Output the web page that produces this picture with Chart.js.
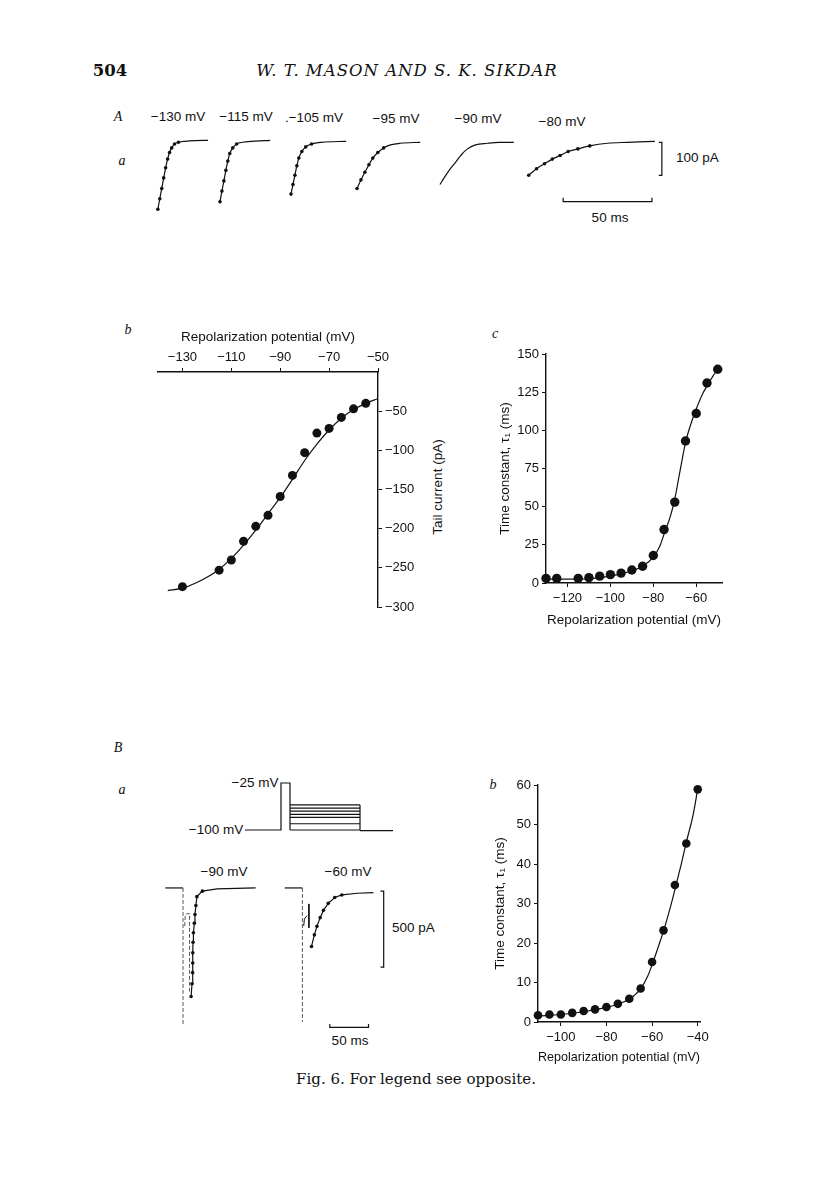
<!DOCTYPE html>
<html>
<head>
<meta charset="utf-8">
<script src="https://cdn.jsdelivr.net/npm/chart.js@4.4.0/dist/chart.umd.min.js"></script>
<style>
  html, body { margin: 0; padding: 0; background: #fff; }
  #page { position: relative; width: 816px; height: 1181px; overflow: hidden; background: #fff; }
  canvas { position: absolute; }
  .t { position: absolute; white-space: nowrap; color: #111; font-family: "Liberation Sans", Arial, sans-serif;
       font-size: 13.5px; line-height: 1; transform: translate(-50%, -50%); }
  .l { transform: translate(0, -50%); }
  .serif { font-family: "DejaVu Serif", "Liberation Serif", serif; }
  .it { font-family: "Liberation Serif", serif; font-style: italic; font-size: 14px; }
  .rot { transform: translate(-50%, -50%) rotate(-90deg); }
</style>
</head>
<body>
<div id="page">
  <div class="t serif" style="left:110px;top:71px;font-size:16.5px;font-weight:bold;">504</div>
  <div class="t serif" style="left:407px;top:71px;font-size:16.5px;font-style:italic;letter-spacing:1px;">W. T. MASON AND S. K. SIKDAR</div>

  <!-- panel A -->
  <div class="t it" style="left:118px;top:117px;">A</div>
  <div class="t it" style="left:122px;top:161px;">a</div>
  <div class="t" style="left:178px;top:117px;">−130 mV</div>
  <div class="t" style="left:246px;top:117px;">−115 mV</div>
  <div class="t" style="left:314px;top:118px;">.−105 mV</div>
  <div class="t" style="left:396px;top:119px;">−95 mV</div>
  <div class="t" style="left:478px;top:119px;">−90 mV</div>
  <div class="t" style="left:562px;top:122px;">−80 mV</div>
  <div class="t l" style="left:676px;top:158px;">100 pA</div>
  <div class="t" style="left:610px;top:218px;">50 ms</div>

  <!-- panel A b / c -->
  <div class="t it" style="left:128px;top:330px;">b</div>
  <div class="t rot" style="left:438px;top:487px;">Tail current (pA)</div>
  <div class="t it" style="left:495px;top:334px;">c</div>

  <!-- panel B -->
  <div class="t it" style="left:118px;top:748px;">B</div>
  <div class="t it" style="left:122px;top:790px;">a</div>
  <div class="t" style="left:255px;top:783px;">−25 mV</div>
  <div class="t" style="left:216px;top:830px;">−100 mV</div>
  <div class="t" style="left:224px;top:872px;">−90 mV</div>
  <div class="t" style="left:348px;top:872px;">−60 mV</div>
  <div class="t l" style="left:392px;top:928px;">500 pA</div>
  <div class="t" style="left:350px;top:1041px;">50 ms</div>
  <div class="t it" style="left:493px;top:785px;">b</div>

  <div class="t serif" style="left:416px;top:1079px;font-size:15px;">Fig. 6. For legend see opposite.</div>

  <canvas id="tracesA" width="580" height="140" style="left:140px;top:100px;"></canvas>
  <canvas id="ivChart" width="268" height="300" style="left:150px;top:320px;"></canvas>
  <canvas id="tauChart" width="260" height="310" style="left:480px;top:330px;"></canvas>
  <canvas id="protocolB" width="160" height="65" style="left:240px;top:775px;"></canvas>
  <canvas id="tracesB" width="250" height="190" style="left:150px;top:860px;"></canvas>
  <canvas id="tauChartB" width="260" height="310" style="left:470px;top:770px;"></canvas>
</div>

<script>
// ---- A a: tail current traces (time in ms, current in pA)
const trA130Time = [7.8, 8.9, 10.0, 11.1, 12.2, 13.3, 14.4, 15.6, 17.2, 19.4, 23.3, 28.9, 36.1];
const trA130Curr = [-209, -177, -146, -114, -83, -57, -37, -23, -11, -6, -3, -1, 0];
const trA115Time = [42.8, 43.9, 45.0, 46.1, 47.2, 48.3, 50.0, 52.2, 55.6, 61.1, 71.1];
const trA115Curr = [-186, -154, -123, -91, -63, -40, -23, -11, -6, -3, 0];
const trA105Time = [82.8, 83.9, 85.0, 86.1, 87.2, 88.9, 91.1, 94.4, 100.0, 113.9];
const trA105Curr = [-163, -134, -106, -77, -54, -34, -20, -11, -6, -3];
const trA95Time = [120.0, 122.2, 124.4, 126.7, 128.9, 131.7, 135.0, 138.9, 144.4, 155.6];
const trA95Curr = [-146, -120, -97, -74, -54, -37, -23, -14, -9, -6];
const trA90Time = [166.7, 169.4, 172.2, 175.6, 178.9, 182.2, 186.7, 193.3, 200.0, 208.3];
const trA90Curr = [-134, -111, -89, -66, -43, -26, -14, -9, -6, -6];
const trA80Time = [216.7, 221.1, 225.6, 230.0, 234.4, 238.9, 244.4, 251.1, 261.1, 272.2, 287.8];
const trA80Curr = [-106, -86, -71, -57, -46, -34, -26, -17, -9, -6, -3];
const dotsA = [10, 8, 8, 7, 0, 8];   // how many fitted points are marked on each trace
const barA100pA_t = [290, 291.7, 291.7, 290];
const barA100pA_i = [-6, -6, -106, -106];
const barA50ms_t = [236.1, 236.1, 286.1, 286.1];
const barA50ms_i = [-174, -186, -186, -174];

// ---- A b: tail current vs repolarization potential
const ivTicksX = [-130, -110, -90, -70, -50];
const ivTicksY = [-50, -100, -150, -200, -250, -300];
const ivPotential = [-130, -115, -110, -105, -100, -95, -90, -85, -80, -75, -70, -65, -60, -55];
const ivCurrent = [-274, -253, -240, -216, -197, -183, -159, -132, -103, -78, -72, -58, -47, -40];
const ivFitPotential = [-136, -130, -125, -120, -115, -110, -105, -100, -95, -90, -85, -80, -75, -70, -65, -60, -55, -50];
const ivFitCurrent = [-279, -276, -270, -262, -252, -238, -221, -202, -181, -160, -137, -113, -92, -74, -59, -48, -40, -34];

// ---- A c: time constant vs repolarization potential
const tauTicksX = [-120, -100, -80, -60];
const tauPotential = [-130, -125, -115, -110, -105, -100, -95, -90, -85, -80, -75, -70, -65, -60, -55, -50];
const tauValues = [3, 3, 3, 3.5, 4.5, 5.5, 6.5, 8.5, 11, 18, 35, 53, 93, 111, 131, 140];
const tauFitPotential = [-130, -120, -110, -100, -95, -90, -85, -80, -77, -75, -72, -70, -68, -66, -65, -63, -60, -57, -55, -52, -50];
const tauFitValues = [2.6, 2.6, 2.8, 4.5, 6, 8, 11, 17, 24, 32, 44, 55, 70, 85, 92, 102, 114, 124, 129, 136, 140];

// ---- B a: voltage protocol (ms, mV)
const protoTime = [6.25, 51.25, 51.25, 62.5, 62.5, 62.5];
const protoVolt = [-100, -100, -25, -25, -60, -100];
const protoSteps = [-60, -65, -70, -75, -80, -90, -100];
const protoStepEnd = 150;
const protoTailEnd = 191.25;

// ---- B a: current traces (ms, pA)
const base90Time = [14.6, 37.5];
const base90Curr = [0, 0];
const cap90Time = [37.5, 37.5];
const cap90Curr = [0, -900];
const hook90Time = [39.6, 40.4, 42.0, 45.9, 45.9];
const hook90Curr = [-250, -180, -170, -168, -680];
const tail90Time = [47.9, 49.1, 49.9, 50.0, 50.1, 50.4, 50.9, 52.1, 52.9, 54.1, 55.4, 62.5, 81.3, 131.3];
const tail90Curr = [-713, -629, -556, -493, -426, -357, -294, -231, -174, -115, -57, -21, -6, 0];
const base60Time = [168.8, 191.6];
const base60Curr = [0, 0];
const cap60Time = [191.6, 191.6];
const cap60Curr = [0, -880];
const hook60Time = [193.3, 194.2, 196.0, 197.9];
const hook60Curr = [-250, -205, -190, -182];
const spike60Time = [200, 200];
const spike60Curr = [-105, -262];
const tail60Time = [203.4, 207.1, 210.4, 214.6, 218.8, 225.0, 233.4, 242.5, 262.5, 283.4];
const tail60Curr = [-384, -308, -252, -195, -147, -101, -63, -46, -35, -31];
const barB500pA_t = [292.5, 296.6, 296.6, 292.5];
const barB500pA_i = [-21, -21, -520, -520];
const barB50ms_t = [227, 227, 277, 277];
const barB50ms_i = [-893, -916, -916, -893];

// ---- B b: time constant vs repolarization potential
const tauBTicksX = [-100, -80, -60, -40];
const tauBPotential = [-110, -105, -100, -95, -90, -85, -80, -75, -70, -65, -60, -55, -50, -45, -40];
const tauBValues = [1.7, 1.9, 1.9, 2.3, 2.8, 3.2, 3.8, 4.6, 5.9, 8.5, 15.2, 23.2, 34.7, 45.2, 58.9];
const tauBFitPotential = [-110, -100, -90, -80, -75, -70, -65, -62, -60, -57, -55, -52, -50, -47, -45, -42, -40];
const tauBFitValues = [1.5, 1.9, 2.6, 3.7, 4.5, 5.8, 8.4, 11.5, 14.5, 19.5, 23, 29, 33.5, 40.5, 45.5, 52.5, 59];

const ink = '#111';
Chart.defaults.font.family = '"Liberation Sans", Arial, sans-serif';
Chart.defaults.font.size = 13;
Chart.defaults.color = ink;
Chart.defaults.animation = false;
Chart.defaults.plugins.legend.display = false;
Chart.defaults.plugins.tooltip.enabled = false;

function pts(xs, ys) {
    return xs.map((x, i) => ({ x: x, y: ys[i] }));
}
function minusFmt(v) {
    return v < 0 ? '\u2212' + Math.abs(v) : String(v);
}
// a plain polyline
function line(xs, ys, extra) {
    return Object.assign({
        data: pts(xs, ys), showLine: true, borderColor: ink, borderWidth: 1.2,
        pointRadius: 0, tension: 0
    }, extra || {});
}
// a trace with its first few samples marked by dots
function dotted(xs, ys, dots, extra) {
    return line(xs, ys, Object.assign({
        pointRadius: c => c.dataIndex < dots ? 1.8 : 0,
        pointBackgroundColor: ink, pointBorderWidth: 0
    }, extra || {}));
}
// filled data circles, allowed to sit on the axes
function markers(xs, ys, r) {
    return { data: pts(xs, ys), pointRadius: r, pointBackgroundColor: ink, pointBorderWidth: 0, clip: false };
}
function hiddenScales(xmin, xmax, ymin, ymax) {
    return {
        x: { type: 'linear', display: false, min: xmin, max: xmax },
        y: { type: 'linear', display: false, min: ymin, max: ymax }
    };
}
const dashed = { borderWidth: 0.9, borderColor: '#444', borderDash: [4, 2] };

// A a traces
const tracesA = [
    [trA130Time, trA130Curr], [trA115Time, trA115Curr], [trA105Time, trA105Curr],
    [trA95Time, trA95Curr], [trA90Time, trA90Curr], [trA80Time, trA80Curr]
];
new Chart(document.getElementById('tracesA'), {
    type: 'scatter',
    data: {
        datasets: tracesA.map((tr, k) => dotted(tr[0], tr[1], dotsA[k], { cubicInterpolationMode: 'monotone' }))
            .concat([line(barA100pA_t, barA100pA_i), line(barA50ms_t, barA50ms_i)])
    },
    options: {
        responsive: false,
        layout: { padding: 0 },
        scales: hiddenScales(0, 322.2, -290, 110)
    }
});

// A b: I-V of tail currents, axes on top and right
new Chart(document.getElementById('ivChart'), {
    type: 'scatter',
    data: {
        datasets: [
            markers(ivPotential, ivCurrent, 4.5),
            line(ivFitPotential, ivFitCurrent, { cubicInterpolationMode: 'monotone' })
        ]
    },
    options: {
        responsive: false,
        layout: { padding: { left: 8, right: 0, top: 0, bottom: 13 } },
        scales: {
            x: {
                type: 'linear', position: 'top', min: -140, max: -50,
                afterBuildTicks: s => { s.ticks = ivTicksX.map(v => ({ value: v })); },
                afterFit: s => { s.height = 52; },
                ticks: { callback: minusFmt, padding: 3, maxRotation: 0 },
                grid: { drawOnChartArea: false, tickLength: 4, color: ink },
                border: { color: ink, width: 1.4 },
                title: { display: true, text: 'Repolarization potential (mV)', font: { size: 13.5 }, padding: { top: 9, bottom: 0 } }
            },
            y: {
                type: 'linear', position: 'right', min: -300, max: 0,
                afterBuildTicks: s => { s.ticks = ivTicksY.map(v => ({ value: v })); },
                afterFit: s => { s.width = 40; },
                ticks: { callback: minusFmt, padding: 3 },
                grid: { drawOnChartArea: false, tickLength: 4, color: ink },
                border: { color: ink, width: 1.4 }
            }
        }
    }
});

// shared look for the two time-constant plots
function tauScales(xmin, xmax, xticks, ymax, ystep, xFitH, yFitW, xTitlePad, yTitlePad) {
    return {
        x: {
            type: 'linear', min: xmin, max: xmax,
            afterBuildTicks: s => { s.ticks = xticks.map(v => ({ value: v })); },
            afterFit: s => { s.height = xFitH; },
            ticks: { callback: minusFmt, padding: 4, maxRotation: 0 },
            grid: { drawOnChartArea: false, tickLength: 4, color: ink },
            border: { color: ink, width: 1.4 },
            title: { display: true, text: 'Repolarization potential (mV)', font: { size: 13.5 }, padding: { top: 0, bottom: xTitlePad } }
        },
        y: {
            type: 'linear', min: 0, max: ymax,
            afterFit: s => { s.width = yFitW; },
            ticks: { stepSize: ystep, padding: 3 },
            grid: { drawOnChartArea: false, tickLength: 4, color: ink },
            border: { color: ink, width: 1.4 },
            title: { display: true, text: 'Time constant, \u03c4\u2081 (ms)', font: { size: 13.5 }, padding: { top: yTitlePad, bottom: 0 } }
        }
    };
}

// A c
new Chart(document.getElementById('tauChart'), {
    type: 'scatter',
    data: {
        datasets: [
            markers(tauPotential, tauValues, 4.7),
            line(tauFitPotential, tauFitValues, { cubicInterpolationMode: 'monotone' })
        ]
    },
    options: {
        responsive: false,
        layout: { padding: { left: 0, right: 18, top: 24, bottom: 0 } },
        scales: tauScales(-130, -48, tauTicksX, 150, 25, 57, 66, 12, 17)
    }
});

// B a: voltage protocol
const protoSets = [line(protoTime, protoVolt)];
protoSteps.forEach(v => protoSets.push(line([62.5, protoStepEnd], [v, v])));
protoSets.push(line([protoStepEnd, protoStepEnd], [protoSteps[0], protoSteps[protoSteps.length - 1]]));
protoSets.push(line([protoStepEnd, protoTailEnd], [-101, -101]));
new Chart(document.getElementById('protocolB'), {
    type: 'scatter',
    data: { datasets: protoSets },
    options: {
        responsive: false,
        layout: { padding: 0 },
        scales: hiddenScales(0, 200, -115.95, -12.28)
    }
});

// B a: current traces
new Chart(document.getElementById('tracesB'), {
    type: 'scatter',
    data: {
        datasets: [
            dotted(tail90Time, tail90Curr, 12),
            dotted(tail60Time, tail60Curr, 8),
            line(base90Time, base90Curr),
            line(base60Time, base60Curr),
            line(cap90Time, cap90Curr, dashed),
            line(hook90Time, hook90Curr, dashed),
            line(cap60Time, cap60Curr, dashed),
            line(hook60Time, hook60Curr, { borderWidth: 1 }),
            line(spike60Time, spike60Curr, { borderWidth: 1 }),
            line(barB500pA_t, barB500pA_i),
            line(barB50ms_t, barB50ms_i)
        ]
    },
    options: {
        responsive: false,
        layout: { padding: 0 },
        scales: hiddenScales(0, 312.5, -1037.7, 157.2)
    }
});

// B b
new Chart(document.getElementById('tauChartB'), {
    type: 'scatter',
    data: {
        datasets: [
            markers(tauBPotential, tauBValues, 4.3),
            line(tauBFitPotential, tauBFitValues, { cubicInterpolationMode: 'monotone' })
        ]
    },
    options: {
        responsive: false,
        layout: { padding: { left: 0, right: 30, top: 15, bottom: 0 } },
        scales: tauScales(-110, -39, tauBTicksX, 60, 10, 58, 68, 15, 22)
    }
});
</script>
</body>
</html>
